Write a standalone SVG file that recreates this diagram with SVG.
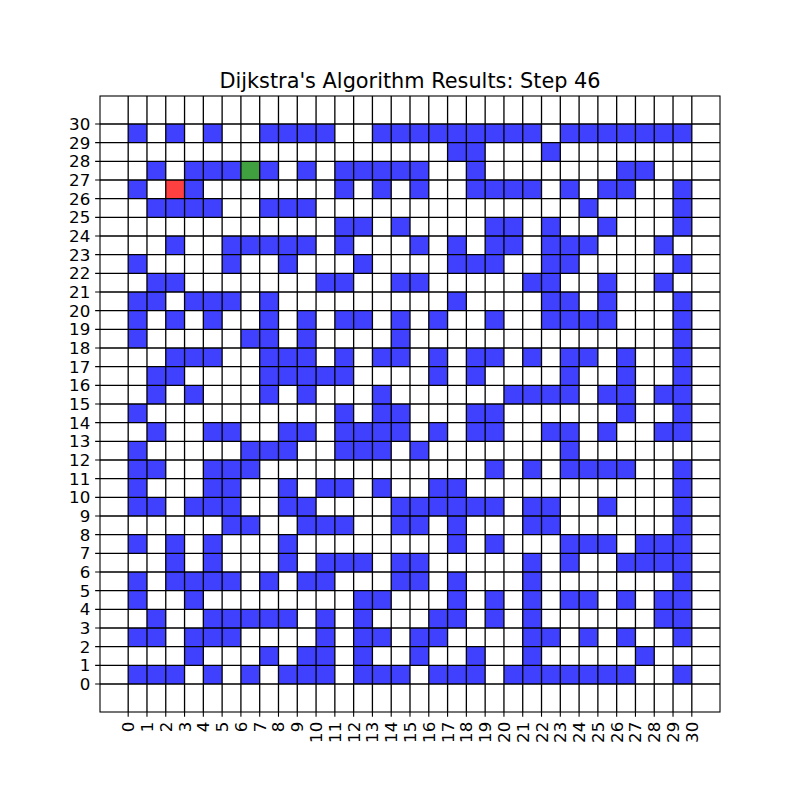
<svg xmlns="http://www.w3.org/2000/svg" width="800" height="800" viewBox="0 0 800 800">
<style>
.blue{fill:#4040ff}
.start{fill:#ff4040}
.cur{fill:#40a040}
.grid{fill:none;stroke:#000;stroke-width:1.3}
.tick{fill:none;stroke:#000;stroke-width:1.1}
.lbl{font-family:"DejaVu Sans","Liberation Sans",sans-serif;font-size:16.67px;fill:#000}
.title{font-family:"DejaVu Sans","Liberation Sans",sans-serif;font-size:20.83px;fill:#000;text-anchor:middle}
</style>
<rect x="0" y="0" width="800" height="800" fill="#fff"/>
<g id="cells" transform="matrix(18.7879 0 0 -18.6667 128.1818 684)">
<g class="blue">
<rect x="0" y="29" width="1" height="1"/><rect x="2" y="29" width="1" height="1"/><rect x="4" y="29" width="1" height="1"/><rect x="7" y="29" width="4" height="1"/><rect x="13" y="29" width="9" height="1"/><rect x="23" y="29" width="7" height="1"/>
<rect x="17" y="28" width="2" height="1"/><rect x="22" y="28" width="1" height="1"/>
<rect x="1" y="27" width="1" height="1"/><rect x="3" y="27" width="3" height="1"/><rect x="7" y="27" width="1" height="1"/><rect x="9" y="27" width="1" height="1"/><rect x="11" y="27" width="5" height="1"/><rect x="18" y="27" width="1" height="1"/><rect x="26" y="27" width="2" height="1"/>
<rect x="0" y="26" width="1" height="1"/><rect x="3" y="26" width="1" height="1"/><rect x="11" y="26" width="1" height="1"/><rect x="13" y="26" width="1" height="1"/><rect x="15" y="26" width="1" height="1"/><rect x="18" y="26" width="4" height="1"/><rect x="23" y="26" width="1" height="1"/><rect x="25" y="26" width="2" height="1"/><rect x="29" y="26" width="1" height="1"/>
<rect x="1" y="25" width="4" height="1"/><rect x="7" y="25" width="3" height="1"/><rect x="24" y="25" width="1" height="1"/><rect x="29" y="25" width="1" height="1"/>
<rect x="11" y="24" width="2" height="1"/><rect x="14" y="24" width="1" height="1"/><rect x="19" y="24" width="2" height="1"/><rect x="22" y="24" width="1" height="1"/><rect x="25" y="24" width="1" height="1"/><rect x="29" y="24" width="1" height="1"/>
<rect x="2" y="23" width="1" height="1"/><rect x="5" y="23" width="5" height="1"/><rect x="11" y="23" width="1" height="1"/><rect x="15" y="23" width="1" height="1"/><rect x="17" y="23" width="1" height="1"/><rect x="19" y="23" width="2" height="1"/><rect x="22" y="23" width="3" height="1"/><rect x="28" y="23" width="1" height="1"/>
<rect x="0" y="22" width="1" height="1"/><rect x="5" y="22" width="1" height="1"/><rect x="8" y="22" width="1" height="1"/><rect x="12" y="22" width="1" height="1"/><rect x="17" y="22" width="3" height="1"/><rect x="22" y="22" width="2" height="1"/><rect x="29" y="22" width="1" height="1"/>
<rect x="1" y="21" width="2" height="1"/><rect x="10" y="21" width="2" height="1"/><rect x="14" y="21" width="2" height="1"/><rect x="21" y="21" width="2" height="1"/><rect x="25" y="21" width="1" height="1"/><rect x="28" y="21" width="1" height="1"/>
<rect x="0" y="20" width="2" height="1"/><rect x="3" y="20" width="3" height="1"/><rect x="7" y="20" width="1" height="1"/><rect x="17" y="20" width="1" height="1"/><rect x="22" y="20" width="2" height="1"/><rect x="25" y="20" width="1" height="1"/><rect x="29" y="20" width="1" height="1"/>
<rect x="0" y="19" width="1" height="1"/><rect x="2" y="19" width="1" height="1"/><rect x="4" y="19" width="1" height="1"/><rect x="7" y="19" width="1" height="1"/><rect x="9" y="19" width="1" height="1"/><rect x="11" y="19" width="2" height="1"/><rect x="14" y="19" width="1" height="1"/><rect x="16" y="19" width="1" height="1"/><rect x="19" y="19" width="1" height="1"/><rect x="22" y="19" width="4" height="1"/><rect x="29" y="19" width="1" height="1"/>
<rect x="0" y="18" width="1" height="1"/><rect x="6" y="18" width="2" height="1"/><rect x="9" y="18" width="1" height="1"/><rect x="14" y="18" width="1" height="1"/><rect x="29" y="18" width="1" height="1"/>
<rect x="2" y="17" width="3" height="1"/><rect x="7" y="17" width="3" height="1"/><rect x="11" y="17" width="1" height="1"/><rect x="13" y="17" width="2" height="1"/><rect x="16" y="17" width="1" height="1"/><rect x="18" y="17" width="2" height="1"/><rect x="21" y="17" width="1" height="1"/><rect x="23" y="17" width="2" height="1"/><rect x="26" y="17" width="1" height="1"/><rect x="29" y="17" width="1" height="1"/>
<rect x="1" y="16" width="2" height="1"/><rect x="7" y="16" width="5" height="1"/><rect x="16" y="16" width="1" height="1"/><rect x="18" y="16" width="1" height="1"/><rect x="23" y="16" width="1" height="1"/><rect x="26" y="16" width="1" height="1"/><rect x="29" y="16" width="1" height="1"/>
<rect x="1" y="15" width="1" height="1"/><rect x="3" y="15" width="1" height="1"/><rect x="7" y="15" width="1" height="1"/><rect x="9" y="15" width="1" height="1"/><rect x="13" y="15" width="1" height="1"/><rect x="20" y="15" width="4" height="1"/><rect x="25" y="15" width="2" height="1"/><rect x="28" y="15" width="2" height="1"/>
<rect x="0" y="14" width="1" height="1"/><rect x="11" y="14" width="1" height="1"/><rect x="13" y="14" width="2" height="1"/><rect x="18" y="14" width="2" height="1"/><rect x="26" y="14" width="1" height="1"/><rect x="29" y="14" width="1" height="1"/>
<rect x="1" y="13" width="1" height="1"/><rect x="4" y="13" width="2" height="1"/><rect x="8" y="13" width="2" height="1"/><rect x="11" y="13" width="4" height="1"/><rect x="16" y="13" width="1" height="1"/><rect x="18" y="13" width="2" height="1"/><rect x="22" y="13" width="2" height="1"/><rect x="25" y="13" width="1" height="1"/><rect x="28" y="13" width="2" height="1"/>
<rect x="0" y="12" width="1" height="1"/><rect x="6" y="12" width="3" height="1"/><rect x="11" y="12" width="3" height="1"/><rect x="15" y="12" width="1" height="1"/><rect x="23" y="12" width="1" height="1"/>
<rect x="0" y="11" width="2" height="1"/><rect x="4" y="11" width="3" height="1"/><rect x="19" y="11" width="1" height="1"/><rect x="21" y="11" width="1" height="1"/><rect x="23" y="11" width="4" height="1"/><rect x="29" y="11" width="1" height="1"/>
<rect x="0" y="10" width="1" height="1"/><rect x="4" y="10" width="2" height="1"/><rect x="8" y="10" width="1" height="1"/><rect x="10" y="10" width="2" height="1"/><rect x="13" y="10" width="1" height="1"/><rect x="16" y="10" width="2" height="1"/><rect x="29" y="10" width="1" height="1"/>
<rect x="0" y="9" width="2" height="1"/><rect x="3" y="9" width="3" height="1"/><rect x="8" y="9" width="2" height="1"/><rect x="14" y="9" width="6" height="1"/><rect x="21" y="9" width="2" height="1"/><rect x="25" y="9" width="1" height="1"/><rect x="29" y="9" width="1" height="1"/>
<rect x="5" y="8" width="2" height="1"/><rect x="9" y="8" width="3" height="1"/><rect x="14" y="8" width="2" height="1"/><rect x="17" y="8" width="1" height="1"/><rect x="21" y="8" width="2" height="1"/><rect x="29" y="8" width="1" height="1"/>
<rect x="0" y="7" width="1" height="1"/><rect x="2" y="7" width="1" height="1"/><rect x="4" y="7" width="1" height="1"/><rect x="8" y="7" width="1" height="1"/><rect x="17" y="7" width="1" height="1"/><rect x="19" y="7" width="1" height="1"/><rect x="23" y="7" width="3" height="1"/><rect x="27" y="7" width="3" height="1"/>
<rect x="2" y="6" width="1" height="1"/><rect x="4" y="6" width="1" height="1"/><rect x="8" y="6" width="1" height="1"/><rect x="10" y="6" width="3" height="1"/><rect x="14" y="6" width="2" height="1"/><rect x="21" y="6" width="1" height="1"/><rect x="23" y="6" width="1" height="1"/><rect x="26" y="6" width="4" height="1"/>
<rect x="0" y="5" width="1" height="1"/><rect x="2" y="5" width="4" height="1"/><rect x="7" y="5" width="1" height="1"/><rect x="9" y="5" width="2" height="1"/><rect x="14" y="5" width="2" height="1"/><rect x="17" y="5" width="1" height="1"/><rect x="21" y="5" width="1" height="1"/><rect x="29" y="5" width="1" height="1"/>
<rect x="0" y="4" width="1" height="1"/><rect x="3" y="4" width="1" height="1"/><rect x="12" y="4" width="2" height="1"/><rect x="17" y="4" width="1" height="1"/><rect x="19" y="4" width="1" height="1"/><rect x="21" y="4" width="1" height="1"/><rect x="23" y="4" width="2" height="1"/><rect x="26" y="4" width="1" height="1"/><rect x="28" y="4" width="2" height="1"/>
<rect x="1" y="3" width="1" height="1"/><rect x="4" y="3" width="5" height="1"/><rect x="10" y="3" width="1" height="1"/><rect x="12" y="3" width="1" height="1"/><rect x="16" y="3" width="2" height="1"/><rect x="19" y="3" width="1" height="1"/><rect x="21" y="3" width="1" height="1"/><rect x="28" y="3" width="2" height="1"/>
<rect x="0" y="2" width="2" height="1"/><rect x="3" y="2" width="3" height="1"/><rect x="10" y="2" width="1" height="1"/><rect x="12" y="2" width="2" height="1"/><rect x="15" y="2" width="2" height="1"/><rect x="21" y="2" width="2" height="1"/><rect x="24" y="2" width="1" height="1"/><rect x="26" y="2" width="1" height="1"/><rect x="29" y="2" width="1" height="1"/>
<rect x="3" y="1" width="1" height="1"/><rect x="7" y="1" width="1" height="1"/><rect x="9" y="1" width="2" height="1"/><rect x="12" y="1" width="1" height="1"/><rect x="15" y="1" width="1" height="1"/><rect x="18" y="1" width="1" height="1"/><rect x="21" y="1" width="1" height="1"/><rect x="27" y="1" width="1" height="1"/>
<rect x="0" y="0" width="3" height="1"/><rect x="4" y="0" width="1" height="1"/><rect x="6" y="0" width="1" height="1"/><rect x="8" y="0" width="3" height="1"/><rect x="12" y="0" width="3" height="1"/><rect x="16" y="0" width="3" height="1"/><rect x="20" y="0" width="7" height="1"/><rect x="29" y="0" width="1" height="1"/>
</g>
<rect id="start" class="start" x="2" y="26" width="1" height="1"/>
<rect id="current" class="cur" x="6" y="27" width="1" height="1"/>
</g>
<g id="grid">
<path class="grid" d="M128.18 96V712M146.97 96V712M165.76 96V712M184.55 96V712M203.33 96V712M222.12 96V712M240.91 96V712M259.70 96V712M278.48 96V712M297.27 96V712M316.06 96V712M334.85 96V712M353.64 96V712M372.42 96V712M391.21 96V712M410.00 96V712M428.79 96V712M447.58 96V712M466.36 96V712M485.15 96V712M503.94 96V712M522.73 96V712M541.52 96V712M560.30 96V712M579.09 96V712M597.88 96V712M616.67 96V712M635.45 96V712M654.24 96V712M673.03 96V712M691.82 96V712"/>
<path class="grid" d="M100 684H720M100 665.33H720M100 646.67H720M100 628H720M100 609.33H720M100 590.67H720M100 572H720M100 553.33H720M100 534.67H720M100 516H720M100 497.33H720M100 478.67H720M100 460H720M100 441.33H720M100 422.67H720M100 404H720M100 385.33H720M100 366.67H720M100 348H720M100 329.33H720M100 310.67H720M100 292H720M100 273.33H720M100 254.67H720M100 236H720M100 217.33H720M100 198.67H720M100 180H720M100 161.33H720M100 142.67H720M100 124H720"/>
</g>
<g id="axes">
<rect x="100" y="96" width="620" height="616" fill="none" stroke="#000" stroke-width="1.1"/>
<path class="tick" d="M95.14 684H100M95.14 665.33H100M95.14 646.67H100M95.14 628H100M95.14 609.33H100M95.14 590.67H100M95.14 572H100M95.14 553.33H100M95.14 534.67H100M95.14 516H100M95.14 497.33H100M95.14 478.67H100M95.14 460H100M95.14 441.33H100M95.14 422.67H100M95.14 404H100M95.14 385.33H100M95.14 366.67H100M95.14 348H100M95.14 329.33H100M95.14 310.67H100M95.14 292H100M95.14 273.33H100M95.14 254.67H100M95.14 236H100M95.14 217.33H100M95.14 198.67H100M95.14 180H100M95.14 161.33H100M95.14 142.67H100M95.14 124H100"/>
<path class="tick" d="M128.18 712V716.86M146.97 712V716.86M165.76 712V716.86M184.55 712V716.86M203.33 712V716.86M222.12 712V716.86M240.91 712V716.86M259.70 712V716.86M278.48 712V716.86M297.27 712V716.86M316.06 712V716.86M334.85 712V716.86M353.64 712V716.86M372.42 712V716.86M391.21 712V716.86M410.00 712V716.86M428.79 712V716.86M447.58 712V716.86M466.36 712V716.86M485.15 712V716.86M503.94 712V716.86M522.73 712V716.86M541.52 712V716.86M560.30 712V716.86M579.09 712V716.86M597.88 712V716.86M616.67 712V716.86M635.45 712V716.86M654.24 712V716.86M673.03 712V716.86M691.82 712V716.86"/>
<g id="ylabels" class="lbl" text-anchor="end">
<text x="90.3" y="690">0</text><text x="90.3" y="671.33">1</text><text x="90.3" y="652.67">2</text><text x="90.3" y="634">3</text><text x="90.3" y="615.33">4</text><text x="90.3" y="596.67">5</text><text x="90.3" y="578">6</text><text x="90.3" y="559.33">7</text><text x="90.3" y="540.67">8</text><text x="90.3" y="522">9</text><text x="90.3" y="503.33">10</text><text x="90.3" y="484.67">11</text><text x="90.3" y="466">12</text><text x="90.3" y="447.33">13</text><text x="90.3" y="428.67">14</text><text x="90.3" y="410">15</text><text x="90.3" y="391.33">16</text><text x="90.3" y="372.67">17</text><text x="90.3" y="354">18</text><text x="90.3" y="335.33">19</text><text x="90.3" y="316.67">20</text><text x="90.3" y="298">21</text><text x="90.3" y="279.33">22</text><text x="90.3" y="260.67">23</text><text x="90.3" y="242">24</text><text x="90.3" y="223.33">25</text><text x="90.3" y="204.67">26</text><text x="90.3" y="186">27</text><text x="90.3" y="167.33">28</text><text x="90.3" y="148.67">29</text><text x="90.3" y="130">30</text>
</g>
<g id="xlabels" class="lbl" text-anchor="end">
<text transform="translate(134.18 721.7) rotate(-90)">0</text><text transform="translate(152.97 721.7) rotate(-90)">1</text><text transform="translate(171.76 721.7) rotate(-90)">2</text><text transform="translate(190.55 721.7) rotate(-90)">3</text><text transform="translate(209.33 721.7) rotate(-90)">4</text><text transform="translate(228.12 721.7) rotate(-90)">5</text><text transform="translate(246.91 721.7) rotate(-90)">6</text><text transform="translate(265.70 721.7) rotate(-90)">7</text><text transform="translate(284.48 721.7) rotate(-90)">8</text><text transform="translate(303.27 721.7) rotate(-90)">9</text><text transform="translate(322.06 721.7) rotate(-90)">10</text><text transform="translate(340.85 721.7) rotate(-90)">11</text><text transform="translate(359.64 721.7) rotate(-90)">12</text><text transform="translate(378.42 721.7) rotate(-90)">13</text><text transform="translate(397.21 721.7) rotate(-90)">14</text><text transform="translate(416.00 721.7) rotate(-90)">15</text><text transform="translate(434.79 721.7) rotate(-90)">16</text><text transform="translate(453.58 721.7) rotate(-90)">17</text><text transform="translate(472.36 721.7) rotate(-90)">18</text><text transform="translate(491.15 721.7) rotate(-90)">19</text><text transform="translate(509.94 721.7) rotate(-90)">20</text><text transform="translate(528.73 721.7) rotate(-90)">21</text><text transform="translate(547.52 721.7) rotate(-90)">22</text><text transform="translate(566.30 721.7) rotate(-90)">23</text><text transform="translate(585.09 721.7) rotate(-90)">24</text><text transform="translate(603.88 721.7) rotate(-90)">25</text><text transform="translate(622.67 721.7) rotate(-90)">26</text><text transform="translate(641.45 721.7) rotate(-90)">27</text><text transform="translate(660.24 721.7) rotate(-90)">28</text><text transform="translate(679.03 721.7) rotate(-90)">29</text><text transform="translate(697.82 721.7) rotate(-90)">30</text>
</g>
</g>
<text id="title" class="title" x="410" y="87.5">Dijkstra's Algorithm Results: Step 46</text>
</svg>
